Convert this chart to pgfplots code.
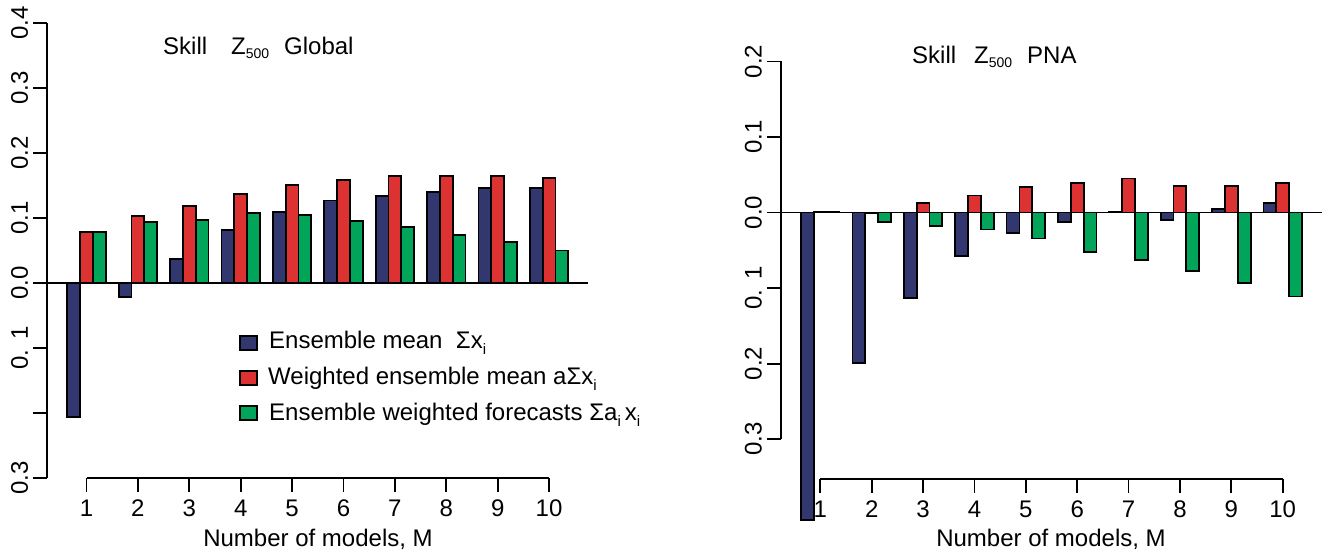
\documentclass[border=0pt]{standalone}
\usepackage{pgfplots}
\usepackage{pgfplotstable}
\pgfplotsset{compat=1.18}
\usepackage{fontspec}
\setmainfont{Liberation Sans}
\definecolor{cblue}{RGB}{51,55,112}
\definecolor{cred}{RGB}{220,50,50}
\definecolor{cgreen}{RGB}{0,165,90}
\newcommand{\sub}[1]{\raisebox{-6pt}{\fontsize{15}{15}\selectfont #1}}
\newcommand{\zsub}{\raisebox{-4pt}{\fontsize{14}{14}\selectfont 500}}

\pgfplotstableread{
k blue red green
1 -0.206 0.0785 0.0785
2 -0.0215 0.103 0.0933
3 0.0364 0.1185 0.0964
4 0.0815 0.137 0.108
5 0.1087 0.151 0.104
6 0.127 0.158 0.0959
7 0.134 0.164 0.0856
8 0.140 0.1646 0.0738
9 0.1456 0.165 0.063
10 0.1467 0.162 0.050
}\globaltab

\pgfplotstableread{
k blue red green
1 -0.407 0.001 0.001
2 -0.199 -0.001 -0.013
3 -0.1135 0.0124 -0.0177
4 -0.057 0.0225 -0.0225
5 -0.027 0.034 -0.0344
6 -0.012 0.039 -0.0517
7 0.0005 0.045 -0.0627
8 -0.0097 0.0353 -0.0773
9 0.0047 0.0349 -0.0932
10 0.0126 0.0391 -0.111
}\pnatab

\begin{document}
\fontsize{24}{28}\selectfont
\begin{tikzpicture}
\path[use as bounding box] (0,0) rectangle (1324pt,551pt);
\pgfplotsset{myaxis/.style={
  scale only axis, anchor=south west,
  axis lines*=left, axis line style={draw=none,-},
  tick align=outside, major tick length=14pt,
  tick style={black, line width=1.8pt},
  xmin=0.235, xmax=10.765,
  xtick={1,2,3,4,5,6,7,8,9,10},
  xticklabels={1,2,3,4,5,6,7,8,9,10},
  ybar, bar width=0.25, clip=false,
  every tick label/.append style={font=\fontsize{24}{28}\selectfont},
  xticklabel style={anchor=north, inner sep=0pt, yshift=-7.4pt},
  yticklabel style={xshift=-5pt, rotate=90, anchor=south, inner sep=0pt},
}}
% ---------- left panel
\begin{axis}[myaxis, at={(47.2pt,73pt)}, width=541.2pt, height=455pt,
  ymin=-0.3, ymax=0.4,
  ytick={-0.3,-0.2,-0.1,0,0.1,0.2,0.3,0.4},
  yticklabels={0.3,,0.\hspace{10pt}1,0.0,0.1,0.2,0.3,0.4}]
\addplot[fill=cblue, draw=black, line width=1.8pt, bar shift=-0.25] table[x=k,y=blue]{\globaltab};
\addplot[fill=cred, draw=black, line width=1.8pt, bar shift=0] table[x=k,y=red]{\globaltab};
\addplot[fill=cgreen, draw=black, line width=1.8pt, bar shift=0.25] table[x=k,y=green]{\globaltab};
\draw[line width=1.8pt] (axis cs:0.235,-0.3) -- (axis cs:0.235,0.4);
\draw[line width=1.8pt] (axis cs:1,-0.3) -- (axis cs:10,-0.3);
\draw[line width=1.3pt] (axis cs:0.235,0) -- (axis cs:10.765,0);
\end{axis}
% ---------- right panel
\begin{axis}[myaxis, at={(781pt,72pt)}, width=541pt, height=417.5pt,
  ymin=-0.3527, ymax=0.2,
  ytick={-0.3,-0.2,-0.1,0,0.1,0.2},
  yticklabels={0.3,0.2,0.\hspace{10pt}1,0.0,0.1,0.2}]
\addplot[fill=cblue, draw=black, line width=1.8pt, bar shift=-0.25] table[x=k,y=blue]{\pnatab};
\addplot[fill=cred, draw=black, line width=1.8pt, bar shift=0] table[x=k,y=red]{\pnatab};
\addplot[fill=cgreen, draw=black, line width=1.8pt, bar shift=0.25] table[x=k,y=green]{\pnatab};
\draw[line width=1.8pt] (axis cs:0.235,-0.3) -- (axis cs:0.235,0.2);
\draw[line width=1.8pt] (axis cs:1,-0.3527) -- (axis cs:10,-0.3527);
\draw[line width=1.3pt] (axis cs:0.235,0) -- (axis cs:10.765,0);
\end{axis}
% ---------- titles
\node[anchor=base west, inner sep=0pt] at (163pt,496pt) {Skill};
\node[anchor=base west, inner sep=0pt] at (231pt,496pt) {Z\zsub};
\node[anchor=base west, inner sep=0pt] at (284pt,496pt) {Global};
\node[anchor=base west, inner sep=0pt] at (912pt,487.7pt) {Skill};
\node[anchor=base west, inner sep=0pt] at (974pt,487.7pt) {Z\zsub};
\node[anchor=base west, inner sep=0pt] at (1027pt,487.7pt) {PNA};
% ---------- x titles
\node[anchor=base, inner sep=0pt] at (318pt,4.4pt) {Number of models, M};
\node[anchor=base, inner sep=0pt] at (1051pt,4.4pt) {Number of models, M};
% ---------- legend
\filldraw[fill=cblue, draw=black, line width=1.5pt] (240pt,201pt) rectangle (257pt,215pt);
\filldraw[fill=cred, draw=black, line width=1.5pt] (240pt,166pt) rectangle (257pt,180pt);
\filldraw[fill=cgreen, draw=black, line width=1.5pt] (240pt,131pt) rectangle (257pt,145pt);
\node[anchor=base west, inner sep=0pt] at (269pt,202pt) {Ensemble mean~~Σx\sub{i}};
\node[anchor=base west, inner sep=0pt] at (268pt,166pt) {Weighted ensemble mean aΣx\sub{i}};
\node[anchor=base west, inner sep=0pt] at (269pt,130pt) {Ensemble weighted forecasts Σa\sub{i}\,x\sub{i}};
\end{tikzpicture}
\end{document}
